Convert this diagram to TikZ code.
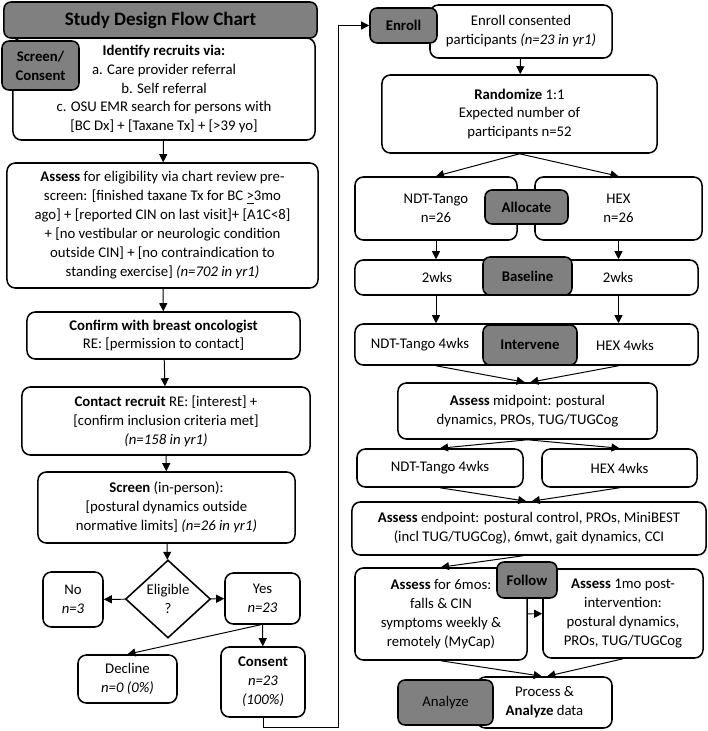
\documentclass[tikz,border=0pt]{standalone}
\usepackage{fontspec}
\setmainfont{Carlito}
\usetikzlibrary{arrows.meta,shapes.geometric}
\definecolor{tagGray}{RGB}{128,128,128}

\begin{document}
\begin{tikzpicture}[
    x=0.025cm, y=-0.025cm,
    font=\fontsize{10.5}{13.5}\selectfont,
    >={Triangle[length=2mm,width=2mm]},
    % plain white boxes and grey phase tags
    box/.style={rectangle, draw=black, fill=white, line width=1.1pt, rounded corners=6pt, align=center, inner sep=0pt},
    tag/.style={rectangle, draw=black, fill=tagGray, line width=1.1pt, rounded corners=5pt, align=center, inner sep=0pt, font=\fontsize{10.5}{13.5}\selectfont\bfseries},
    decision/.style={diamond, draw=black, fill=white, line width=1.1pt, align=center, inner sep=0pt},
    flow/.style={->, line width=0.7pt}
]
\useasboundingbox (0,0) rectangle (708,731);

% Left column - screening
\node[tag, minimum width=7.825cm, minimum height=0.9cm, font=\fontsize{13.5}{16}\selectfont\bfseries] (title) at (160.5, 20) {Study Design Flow Chart};
\node[box, minimum width=7.55cm, minimum height=2.55cm] (identify) at (164, 89) {
    \textbf{Identify recruits via:}\\
    a. Care provider referral\\
    b. Self referral\\
    c. OSU EMR search for persons with\\
    {}[BC Dx] + [Taxane Tx] + [>39 yo]
};
\node[tag, minimum width=1.925cm, minimum height=1.225cm] (screenTag) at (40.5, 65.5) {Screen/\\Consent};

\node[box, minimum width=7.775cm, minimum height=3.125cm] (assess) at (162.5, 225.5) {
    \textbf{Assess} for eligibility via chart review pre-\\
    screen: [finished taxane Tx for BC \underline{>}3mo\\
    ago] + [reported CIN on last visit]+ [A1C<8]\\
    + [no vestibular or neurologic condition\\
    outside CIN] + [no contraindication to\\
    standing exercise] \textit{(n=702 in yr1)}
};
\node[box, minimum width=6.825cm, minimum height=1.175cm] (confirm) at (163.5, 335.5) {
    \textbf{Confirm with breast oncologist}\\
    RE: [permission to contact]
};
\node[box, minimum width=7.2cm, minimum height=1.7cm] (contact) at (166, 421) {
    \textbf{Contact recruit} RE: [interest] +\\
    {}[confirm inclusion criteria met]\\
    \textit{(n=158 in yr1)}
};
\node[box, minimum width=6.425cm, minimum height=1.775cm] (screen) at (166.5, 507.5) {
    \textbf{Screen} (in-person):\\
    {}[postural dynamics outside\\
    normative limits] \textit{(n=26 in yr1)}
};

% Eligibility split
\node[decision, minimum width=2.125cm, minimum height=1.95cm] (eligible) at (168, 599) {Eligible\\?};
\node[box, minimum width=1.5cm, minimum height=1.375cm] (no) at (73, 599.5) {No\\\textit{n=3}};
\node[box, minimum width=1.875cm, minimum height=1.275cm] (yes) at (262.5, 598.5) {Yes\\\textit{n=23}};
\node[box, minimum width=2.475cm, minimum height=1.2cm] (decline) at (127.5, 679) {Decline\\\textit{n=0 (0\%)}};
\node[box, minimum width=2.1cm, minimum height=1.75cm] (consent) at (263, 682) {\textbf{Consent}\\\textit{n=23}\\\textit{(100\%)}};

\draw[flow] (identify) -- (assess);
\draw[flow] (assess) -- (confirm);
\draw[flow] (confirm) -- (contact);
\draw[flow] (contact) -- (screen);
\draw[flow] (screen) -- (eligible);
\draw[flow] (eligible) -- (no);
\draw[flow] (eligible) -- (yes);
\draw[flow] (yes) -- (consent);
\draw[flow] ([xshift=-0.05cm]yes.south) -- (decline.north);

% Right column - trial
\node[box, minimum width=4.55cm, minimum height=1.325cm] (enroll) at (521, 31.5) {Enroll consented\\participants \textit{(n=23 in yr1)}};
\node[tag, minimum width=1.675cm, minimum height=0.875cm] (enrollTag) at (403.5, 25.5) {Enroll};

\coordinate (jog) at (338, 727);
\draw[flow] (consent.south) |- (jog) |- (enrollTag.west);

\node[box, minimum width=6.875cm, minimum height=1.95cm] (randomize) at (519.5, 114) {
    \textbf{Randomize} 1:1\\
    Expected number of\\
    participants n=52
};
\draw[flow] (enroll) -- (randomize);

\node[box, minimum width=4.05cm, minimum height=1.575cm] (ndtArm) at (436, 208.5) {NDT-Tango\\n=26};
\node[box, minimum width=4.175cm, minimum height=1.575cm] (hexArm) at (618.5, 208.5) {HEX\\n=26};
\node[tag, minimum width=2.075cm, minimum height=0.85cm] (allocTag) at (526.5, 207) {Allocate};
\draw[flow] (randomize.south) -- (ndtArm.north);
\draw[flow] (randomize.south) -- (hexArm.north);

\node[box, minimum width=8.575cm, minimum height=0.875cm] (baseline) at (526.5, 277.5) {};
\node (ndtBase) at (437, 277) {2wks};
\node (hexBase) at (618, 277) {2wks};
\node[tag, minimum width=2.225cm, minimum height=0.95cm] (baseTag) at (527.5, 276) {Baseline};
\draw[flow] (ndtArm.south) -- (ndtArm.south |- baseline.north);
\draw[flow] (hexArm.south) -- (hexArm.south |- baseline.north);

\node[box, minimum width=8.575cm, minimum height=1.025cm] (intervene) at (526.5, 344.5) {};
\node (ndtInt) at (420, 345) {NDT-Tango 4wks};
\node (hexInt) at (625, 345) {HEX 4wks};
\node[tag, minimum width=2.35cm, minimum height=1cm] (intTag) at (530, 345) {Intervene};
\draw[flow] (baseline.south -| ndtArm) -- (intervene.north -| ndtArm);
\draw[flow] (baseline.south -| hexArm) -- (intervene.north -| hexArm);

\node[box, minimum width=6.475cm, minimum height=1.4cm] (midpoint) at (527.5, 411) {
    \textbf{Assess} midpoint: postural\\
    dynamics, PROs, TUG/TUGCog
};
\draw[flow] (intervene.south -| ndtArm) -- ([xshift=-0.07cm]midpoint.north);
\draw[flow] (intervene.south -| hexArm) -- ([xshift=0.07cm]midpoint.north);

\node[box, minimum width=4.15cm, minimum height=0.95cm] (ndtSecond) at (440, 468) {NDT-Tango 4wks};
\node[box, minimum width=3.875cm, minimum height=0.95cm] (hexSecond) at (619.5, 468) {HEX 4wks};
\draw[flow] (midpoint.south) -- (ndtSecond.north);
\draw[flow] (midpoint.south) -- (hexSecond.north);

\node[box, minimum width=8.85cm, minimum height=1.325cm] (endpoint) at (529, 528.5) {
    \textbf{Assess} endpoint: postural control, PROs, MiniBEST\\
    (incl TUG/TUGCog), 6mwt, gait dynamics, CCI
};
\draw[flow] (ndtSecond.south) -- ([xshift=-0.07cm]endpoint.north);
\draw[flow] (hexSecond.south) -- ([xshift=0.07cm]endpoint.north);

% Follow-up
\node[box, minimum width=4.3cm, minimum height=2.3cm] (followLong) at (441, 614) {
    \textbf{Assess} for 6mos:\\
    falls \& CIN\\
    symptoms weekly \&\\
    remotely (MyCap)
};
\node[box, minimum width=4cm, minimum height=2.225cm] (followPost) at (623, 613.5) {
    \textbf{Assess} 1mo post-\\
    intervention:\\
    postural dynamics,\\
    PROs, TUG/TUGCog
};
\node[tag, minimum width=1.5cm, minimum height=0.9cm] (followTag) at (527, 580) {Follow};
\draw[flow] ([xshift=-0.15cm]endpoint.south) -- (followLong.north);
\draw[flow] (followLong) -- (followPost);

\node[box, minimum width=3.375cm, minimum height=1.275cm] (process) at (544.5, 702.5) {Process \&\\\textbf{Analyze} data};
\node[tag, minimum width=2.375cm, minimum height=1.125cm, font=\fontsize{10.5}{13.5}\selectfont] (analyzeTag) at (445.5, 702.5) {Analyze};
\draw[flow] (followLong.south) -- ([xshift=-0.07cm]process.north);
\draw[flow] (followPost.south) -- ([xshift=0.07cm]process.north);

\end{tikzpicture}
\end{document}
